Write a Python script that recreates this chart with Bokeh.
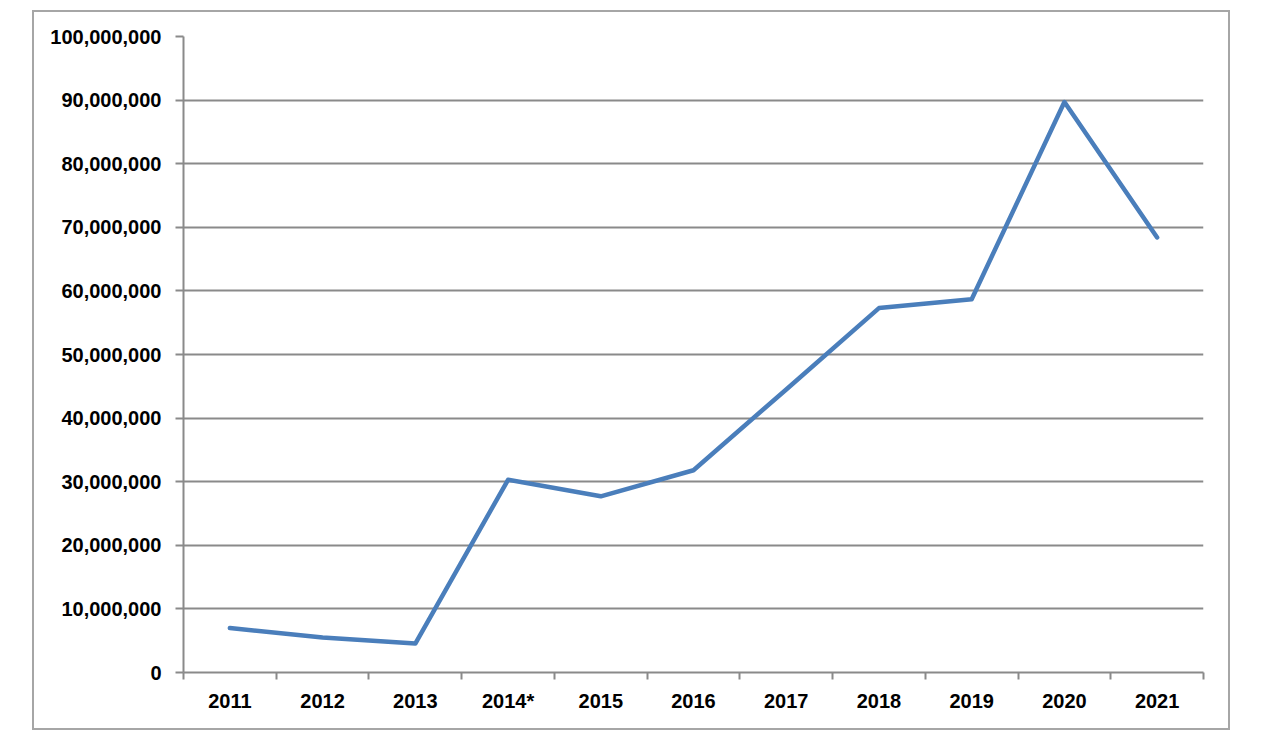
from bokeh.plotting import figure
from bokeh.models import FixedTicker, NumeralTickFormatter, Range1d
from bokeh.embed import file_html
from bokeh.resources import INLINE

years = ["2011", "2012", "2013", "2014*", "2015", "2016", "2017", "2018", "2019", "2020", "2021"]
values = [7000000, 5500000, 4550000, 30300000, 27700000, 31800000, 44500000, 57300000, 58700000, 89700000, 68400000]
y_ticks = list(range(0, 100000001, 10000000))

xs = [i + 0.5 for i in range(len(years))]

p = figure(width=1194, height=716, output_backend="svg", toolbar_location=None,
           x_range=Range1d(0, len(years)), y_range=Range1d(0, 100000000),
           min_border_left=149, min_border_right=25, min_border_top=24, min_border_bottom=56)
p.margin = (12, 0, 0, 34)
p.styles = {"outline": "2px solid #a6a6a6"}
p.outline_line_color = None
p.background_fill_color = "white"
p.border_fill_color = "white"

p.line(xs, values, line_color="#4a7ebb", line_width=4.5, line_join="round", line_cap="round")

font = "Liberation Sans"
xa = p.xaxis[0]
xa.ticker = FixedTicker(ticks=xs, minor_ticks=list(range(len(years) + 1)))
xa.major_label_overrides = {x: y for x, y in zip(xs, years)}
xa.major_tick_out = 0
xa.major_tick_in = 0
xa.minor_tick_out = 7
xa.minor_tick_in = 0
xa.minor_tick_line_color = "#8a8a8a"
xa.minor_tick_line_width = 2
xa.axis_line_color = "#8a8a8a"
xa.axis_line_width = 2
xa.major_label_standoff = 10
xa.major_label_text_font = font
xa.major_label_text_font_style = "bold"
xa.major_label_text_font_size = "20px"
xa.major_label_text_color = "black"

ya = p.yaxis[0]
ya.ticker = FixedTicker(ticks=y_ticks)
ya.formatter = NumeralTickFormatter(format="0,0")
ya.major_tick_out = 8
ya.major_tick_in = 0
ya.minor_tick_line_color = None
ya.major_tick_line_color = "#8a8a8a"
ya.major_tick_line_width = 2
ya.axis_line_color = "#8a8a8a"
ya.axis_line_width = 2
ya.major_label_standoff = 14
ya.major_label_text_font = font
ya.major_label_text_font_style = "bold"
ya.major_label_text_font_size = "20px"
ya.major_label_text_color = "black"

p.xgrid.grid_line_color = None
p.ygrid.ticker = FixedTicker(ticks=y_ticks)
p.ygrid.grid_line_color = "#8a8a8a"
p.ygrid.grid_line_width = 2

open("out.html", "w").write(file_html(p, INLINE))
